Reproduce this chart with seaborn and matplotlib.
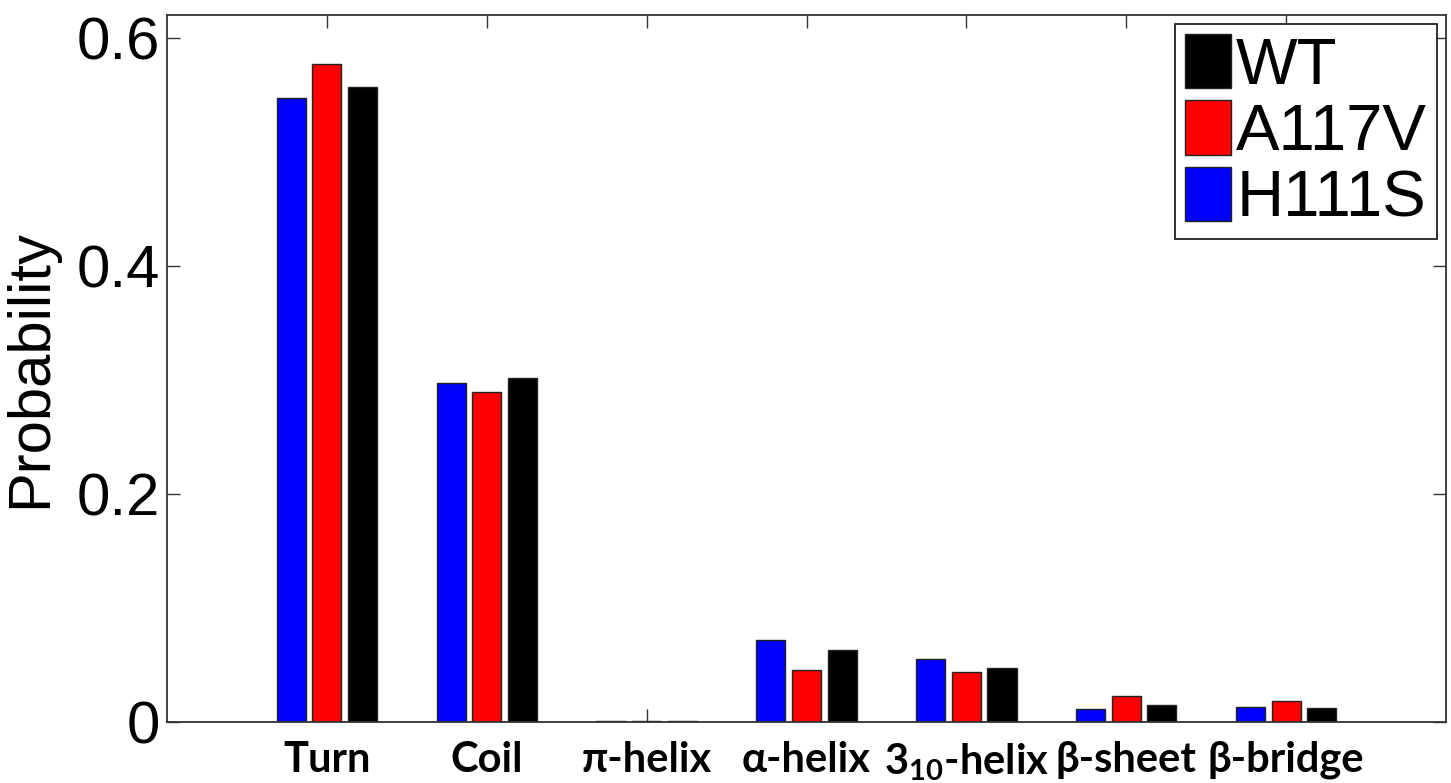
import matplotlib
matplotlib.use("Agg")
import matplotlib.pyplot as plt
from matplotlib.patches import Patch
import pandas as pd
import seaborn as sns

# Secondary-structure probabilities per variant
categories = ["Turn", "Coil", "π-helix", "α-helix", "3$_{\\mathregular{10}}$-helix", "β-sheet", "β-bridge"]
wt = [0.557, 0.302, 0.001, 0.063, 0.047, 0.015, 0.012]
a117v = [0.577, 0.289, 0.001, 0.046, 0.044, 0.023, 0.018]
h111s = [0.547, 0.297, 0.001, 0.072, 0.055, 0.011, 0.013]

variants = ["H111S", "A117V", "WT"]
colors = {"H111S": "#0000ff", "A117V": "#ff0000", "WT": "#000000"}

df = pd.DataFrame({
    "structure": categories * 3,
    "variant": ["H111S"] * 7 + ["A117V"] * 7 + ["WT"] * 7,
    "prob": h111s + a117v + wt,
})

sns.set_theme(style="white")
plt.rcParams["font.family"] = ["Liberation Sans", "DejaVu Sans"]
plt.rcParams["mathtext.fontset"] = "custom"
plt.rcParams["mathtext.rm"] = "Lato:bold"
for key in ["text.color", "axes.labelcolor", "xtick.labelcolor", "ytick.labelcolor"]:
    plt.rcParams[key] = "black"

fig = plt.figure(figsize=(14.51, 7.83), dpi=100)
ax = fig.add_axes([167 / 1451, 1 - 722 / 783, (1446 - 167) / 1451, (722 - 15) / 783])

sns.barplot(data=df, x="structure", y="prob", hue="variant", order=categories,
            hue_order=variants, palette=colors, width=0.668, gap=0.18,
            edgecolor="#222222", linewidth=1.0, saturation=1, ax=ax, legend=False)

ax.set_xlim(-1, 7)
ax.set_ylim(0, 0.62)
ax.set_yticks([0, 0.2, 0.4, 0.6])
ax.set_yticklabels(["0", "0.2", "0.4", "0.6"])
ax.set_xlabel("")
ax.set_ylabel("Probability", fontsize=43, labelpad=13, color="black")

ax.tick_params(axis="y", direction="in", length=9.5, width=1.0, color="#333333",
               labelsize=43, pad=5, right=True, left=True, labelcolor="black")
ax.tick_params(axis="x", direction="in", length=9.5, width=1.0, color="#333333",
               pad=13.5, top=True, bottom=True, labelcolor="black")
for lbl in ax.get_xticklabels():
    lbl.set_fontfamily(["Lato", "Open Sans", "DejaVu Sans"])
    lbl.set_fontsize(30)
    lbl.set_fontweight("bold")
    lbl.set_color("black")

for s in ax.spines.values():
    s.set_visible(True)
    s.set_color("#333333")
    s.set_linewidth(1.3)

handles = [Patch(facecolor=colors[v], edgecolor="#222222", linewidth=1.0) for v in ["WT", "A117V", "H111S"]]
leg = ax.legend(handles, ["WT", "A117V", "H111S"], loc="upper right", fontsize=47,
                handlelength=0.7, handleheight=0.9, handletextpad=0.08,
                labelspacing=0.06, borderaxespad=0.14, borderpad=0.15,
                frameon=True, fancybox=False, framealpha=1)
leg.get_frame().set_edgecolor("#222222")
leg.get_frame().set_linewidth(1.3)
for t in leg.get_texts():
    t.set_color("black")

fig.savefig("out.png", dpi=100)
